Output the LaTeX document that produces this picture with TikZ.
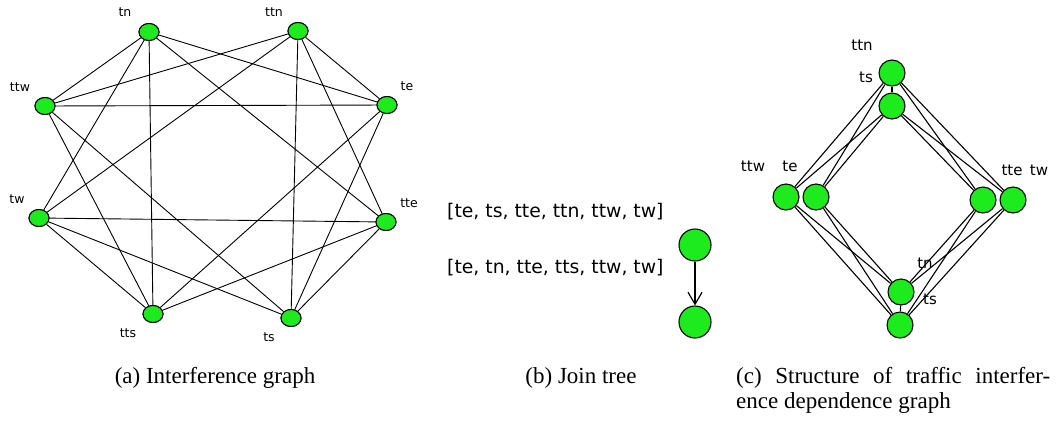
\documentclass[tikz,border=0pt]{standalone}
\usepackage{fontspec}
\setmainfont{Liberation Serif}
\newfontfamily\graphfont{DejaVu Sans}
\usetikzlibrary{arrows.meta,shapes.geometric}
\definecolor{vgreen}{RGB}{30,235,30}
\begin{document}
\begin{tikzpicture}[x=1pt,y=-1pt,
  vtxa/.style={ellipse,draw=black,line width=1pt,fill=vgreen,minimum width=20pt,minimum height=17pt,inner sep=0pt},
  vtxc/.style={circle,draw=black,line width=1.1pt,fill=vgreen,minimum size=26pt,inner sep=0pt},
  vtxb/.style={circle,draw=black,line width=1.1pt,fill=vgreen,minimum size=32pt,inner sep=0pt},
  edgea/.style={draw=black,line width=0.9pt},
  edgec/.style={draw=black,line width=1.1pt},
  lbla/.style={font=\graphfont\fontsize{12.5}{14}\selectfont,inner sep=0pt},
  lblc/.style={font=\graphfont\fontsize{15}{17}\selectfont,inner sep=0pt},
  lblb/.style={font=\graphfont\fontsize{18.8}{21}\selectfont,inner sep=0pt,anchor=west},
  capt/.style={font=\fontsize{23}{25}\selectfont,inner sep=0pt,anchor=base}]
\useasboundingbox (0,0) rectangle (1059,421);

% ---- (a) interference graph ----
\foreach \n/\x/\y/\lx/\ly in {tn/149/32/125/12, ttn/298/31/274/12, ttw/45/106/20/87,
    te/387/105/407/86, tw/39/218/17/199, tte/386/222/409/203,
    tts/153/314/128/333, ts/291/318/269/337}{
  \node[lbla] (la-\n) at (\lx,\ly) {\n};
  \node[vtxa] (a-\n) at (\x,\y) {};
}
\foreach \u/\v in {tn/ttw, tn/tw, tn/tts, tn/te, tn/tte,
    ttn/ttw, ttn/tw, ttn/ts, ttn/te, ttn/tte,
    ttw/te, ttw/tts, ttw/ts, te/tts, te/ts,
    tw/tte, tw/tts, tw/ts, tte/tts, tte/ts}{
  \draw[edgea] (a-\u) -- (a-\v);
}
% vertices again on top of the edge ends
\foreach \n/\x/\y in {tn/149/32, ttn/298/31, ttw/45/106, te/387/105,
    tw/39/218, tte/386/222, tts/153/314, ts/291/318}{
  \node[vtxa] at (\x,\y) {};
}

% ---- (b) join tree ----
\node[lblb] (bt1) at (447,212) {[te, ts, tte, ttn, ttw, tw]};
\node[lblb] (bt2) at (447,268) {[te, tn, tte, tts, ttw, tw]};
\node[vtxb] (b-top) at (695,245) {};
\node[vtxb] (b-bot) at (695,322) {};
\draw[line width=1.2pt,-{Straight Barb[length=12pt,width=14pt,line width=1.2pt]}] (b-top) -- (b-bot);

% ---- (c) traffic interference dependence graph ----
\foreach \n/\t/\lx/\ly in {ttn/ttn/862/45, tsa/ts/866/77, ttw/ttw/753/166, te/te/790/166,
    tte/tte/1012/170, tw/tw/1039/170, tn/tn/925/263, tsb/ts/930/299}{
  \node[lblc] (lc-\n) at (\lx,\ly) {\t};
}
\foreach \n/\x/\y in {ttn/892/73, tsa/892/106, ttw/786/197, te/816/197,
    tte/983/200, tw/1013/200, tn/901/292, tsb/900/325}{
  \node[vtxc] (c-\n) at (\x,\y) {};
}
\foreach \u in {ttn,tsa,tn,tsb}{
  \foreach \v in {ttw,te,tte,tw}{
    \draw[edgec] (c-\u) -- (c-\v);
  }
}
\draw[edgec] (c-ttn) -- (c-tsa);
\draw[edgec] (c-tn) -- (c-tsb);

% ---- captions ----
\node[capt] (cap-a) at (215,383) {(a) Interference graph};
\node[capt] (cap-b) at (581,383) {(b) Join tree};
\node[font=\fontsize{23}{25}\selectfont,inner sep=0pt,anchor=north west,text width=314pt,align=justify]
  (cap-c) at (736,367) {(c) Structure of traffic interfer-\linebreak ence dependence graph};
\end{tikzpicture}
\end{document}
